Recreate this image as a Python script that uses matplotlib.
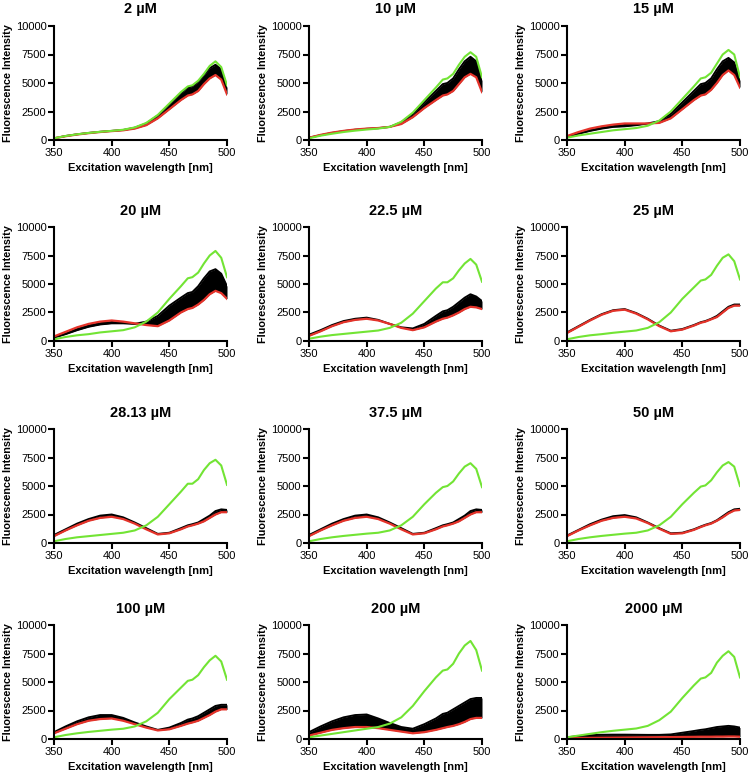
import matplotlib
matplotlib.use("Agg")
import matplotlib.pyplot as plt

plt.rcParams['font.family'] = ['Liberation Sans', 'DejaVu Sans']

# excitation wavelengths (nm) at which the curves were read
wl = [350, 360, 370, 380, 390, 400, 410, 420, 430, 440, 450,
      460, 466, 470, 475, 480, 485, 490, 495, 500]

titles = ['2 µM', '10 µM', '15 µM', '20 µM', '22.5 µM', '25 µM',
          '28.13 µM', '37.5 µM', '50 µM', '100 µM', '200 µM', '2000 µM']

# first scan (green)
green_2 = [150, 350, 500, 620, 720, 800, 900, 1100, 1500, 2200, 3200, 4200, 4700, 4800, 5200, 5800, 6500, 6900, 6400, 4800]
green_10 = [150, 380, 550, 700, 820, 920, 1000, 1150, 1600, 2400, 3500, 4600, 5300, 5400, 5800, 6600, 7300, 7700, 7300, 5500]
green_15 = [200, 400, 550, 700, 850, 950, 1050, 1250, 1700, 2500, 3600, 4700, 5400, 5500, 5900, 6700, 7500, 7900, 7500, 5500]
green_20 = [150, 350, 500, 600, 750, 850, 950, 1200, 1700, 2500, 3700, 4800, 5500, 5600, 6000, 6800, 7500, 7900, 7300, 5600]
green_22 = [200, 380, 520, 620, 720, 820, 920, 1150, 1600, 2400, 3500, 4600, 5150, 5150, 5500, 6200, 6800, 7200, 6700, 5200]
green_25 = [150, 350, 500, 600, 720, 820, 920, 1150, 1650, 2500, 3700, 4700, 5300, 5400, 5800, 6600, 7300, 7600, 7000, 5400]
green_28 = [150, 350, 500, 600, 700, 800, 900, 1100, 1550, 2300, 3400, 4500, 5200, 5200, 5600, 6400, 7000, 7300, 6800, 5100]
green_37 = [150, 350, 500, 620, 720, 820, 900, 1100, 1550, 2300, 3400, 4400, 4900, 5000, 5400, 6100, 6700, 7000, 6500, 4900]
green_50 = [150, 350, 500, 620, 720, 820, 900, 1100, 1550, 2300, 3400, 4400, 4950, 5050, 5500, 6200, 6800, 7100, 6700, 5000]
green_100 = [150, 350, 500, 620, 720, 820, 900, 1100, 1550, 2300, 3500, 4500, 5100, 5200, 5600, 6300, 6900, 7300, 6800, 5200]
green_200 = [150, 300, 450, 600, 750, 900, 1050, 1350, 1900, 2900, 4200, 5400, 6000, 6100, 6600, 7500, 8200, 8600, 7800, 6000]
green_2000 = [150, 300, 450, 600, 720, 820, 920, 1150, 1650, 2400, 3600, 4700, 5300, 5400, 5800, 6700, 7300, 7700, 7200, 5400]

# last scan (red)
red_2 = [150, 330, 480, 600, 700, 780, 850, 1000, 1300, 1900, 2700, 3500, 3900, 4000, 4300, 4900, 5400, 5700, 5300, 4000]
red_10 = [200, 450, 650, 800, 920, 1000, 1050, 1150, 1400, 2000, 2800, 3500, 3900, 4000, 4300, 4900, 5500, 5800, 5500, 4200]
red_15 = [350, 700, 1000, 1200, 1350, 1450, 1450, 1450, 1500, 1900, 2700, 3500, 3900, 4000, 4400, 5000, 5700, 6100, 5700, 4600]
red_20 = [400, 800, 1200, 1500, 1700, 1800, 1700, 1550, 1400, 1300, 1800, 2500, 2800, 2900, 3200, 3600, 4100, 4400, 4200, 3700]
red_22 = [450, 850, 1300, 1650, 1850, 1950, 1800, 1500, 1150, 950, 1200, 1700, 1950, 2050, 2250, 2500, 2800, 3000, 2950, 2800]
red_25 = [700, 1250, 1800, 2300, 2650, 2750, 2400, 1900, 1300, 850, 1000, 1350, 1600, 1700, 1900, 2100, 2500, 2900, 3100, 3100]
red_28 = [600, 1100, 1550, 1950, 2200, 2300, 2100, 1700, 1200, 750, 850, 1200, 1450, 1550, 1700, 1900, 2200, 2500, 2700, 2700]
red_37 = [600, 1100, 1550, 1950, 2200, 2300, 2100, 1700, 1200, 750, 850, 1200, 1450, 1550, 1700, 1900, 2200, 2500, 2700, 2700]
red_50 = [600, 1100, 1550, 1950, 2200, 2300, 2150, 1750, 1250, 800, 850, 1150, 1400, 1550, 1700, 1950, 2250, 2600, 2850, 2900]
red_100 = [500, 900, 1300, 1600, 1750, 1800, 1600, 1300, 1000, 750, 850, 1150, 1350, 1450, 1600, 1850, 2100, 2400, 2600, 2600]
red_200 = [300, 550, 800, 950, 1050, 1050, 950, 800, 650, 500, 600, 800, 950, 1050, 1150, 1300, 1500, 1750, 1850, 1850]
red_2000 = [50, 80, 100, 110, 120, 130, 140, 150, 160, 170, 180, 190, 200, 200, 200, 210, 210, 220, 220, 200]

# outermost intermediate scan (edge of the black band)
black_2 = [150, 350, 500, 620, 720, 800, 880, 1080, 1450, 2150, 3100, 4100, 4600, 4700, 5100, 5700, 6300, 6600, 6200, 4600]
black_10 = [200, 420, 620, 780, 900, 980, 1040, 1150, 1550, 2300, 3300, 4300, 4900, 5000, 5400, 6200, 6900, 7300, 6900, 5200]
black_15 = [250, 550, 800, 1000, 1150, 1200, 1300, 1450, 1650, 2300, 3300, 4300, 4900, 5000, 5400, 6200, 6900, 7200, 6800, 5200]
black_20 = [300, 600, 950, 1250, 1450, 1550, 1550, 1500, 1700, 2200, 3100, 3800, 4200, 4300, 4800, 5500, 6100, 6300, 5900, 4800]
black_22 = [550, 950, 1400, 1750, 1950, 2050, 1850, 1500, 1200, 1100, 1500, 2200, 2600, 2700, 3000, 3400, 3800, 4100, 3900, 3500]
black_25 = [750, 1300, 1850, 2350, 2700, 2800, 2450, 1950, 1350, 900, 1050, 1400, 1650, 1750, 1950, 2200, 2600, 3000, 3200, 3200]
black_28 = [700, 1200, 1700, 2100, 2400, 2500, 2250, 1800, 1300, 800, 900, 1300, 1550, 1650, 1800, 2100, 2400, 2800, 2950, 2900]
black_37 = [700, 1200, 1700, 2100, 2400, 2500, 2250, 1800, 1300, 800, 900, 1300, 1550, 1650, 1800, 2100, 2400, 2800, 2950, 2900]
black_50 = [650, 1150, 1650, 2050, 2350, 2450, 2250, 1800, 1300, 850, 900, 1200, 1450, 1600, 1750, 2000, 2350, 2700, 2950, 3000]
black_100 = [600, 1100, 1550, 1900, 2100, 2100, 1850, 1450, 1100, 800, 1000, 1400, 1700, 1800, 2000, 2300, 2600, 2900, 3000, 3000]
black_200 = [600, 1100, 1550, 1900, 2100, 2150, 1800, 1400, 1050, 900, 1300, 1800, 2200, 2300, 2600, 2900, 3200, 3500, 3600, 3600]
black_2000 = [150, 250, 330, 370, 380, 380, 370, 360, 360, 400, 550, 700, 800, 850, 950, 1050, 1100, 1150, 1100, 1000]

greens = [green_2, green_10, green_15, green_20, green_22, green_25,
          green_28, green_37, green_50, green_100, green_200, green_2000]
reds = [red_2, red_10, red_15, red_20, red_22, red_25,
        red_28, red_37, red_50, red_100, red_200, red_2000]
blacks = [black_2, black_10, black_15, black_20, black_22, black_25,
          black_28, black_37, black_50, black_100, black_200, black_2000]

W, H = 750, 775
fig = plt.figure(figsize=(W / 100, H / 100), dpi=100)

# axes boxes in pixels
col_left = [54, 309, 567]
row_top = [26, 227, 429, 625]
ax_w, ax_h = 173, 114

for i in range(12):
    r, c = divmod(i, 3)
    ax = fig.add_axes([col_left[c] / W, 1 - (row_top[r] + ax_h) / H, ax_w / W, ax_h / H])

    ax.fill_between(wl, reds[i], blacks[i], color='black', lw=0)
    ax.plot(wl, blacks[i], color='black', lw=1.4)
    ax.plot(wl, reds[i], color='#e5332a', lw=1.6)
    ax.plot(wl, greens[i], color='#72e434', lw=1.5)

    ax.set_xlim(350, 500)
    ax.set_ylim(0, 10000)
    ax.set_xticks([350, 400, 450, 500])
    ax.set_yticks([0, 2500, 5000, 7500, 10000])
    for s in ['top', 'right']:
        ax.spines[s].set_visible(False)
    for s in ['left', 'bottom']:
        ax.spines[s].set_linewidth(1.5)
    ax.tick_params(width=1.5, length=4, labelsize=8, pad=1.5)
    ax.set_title(titles[i], fontsize=10.5, fontweight='bold', pad=9)
    ax.set_xlabel('Excitation wavelength [nm]', fontsize=8, fontweight='bold', labelpad=4)
    ax.set_ylabel('Fluorescence Intensity', fontsize=7.8, fontweight='bold', labelpad=2)

fig.savefig('out.png', dpi=100)
